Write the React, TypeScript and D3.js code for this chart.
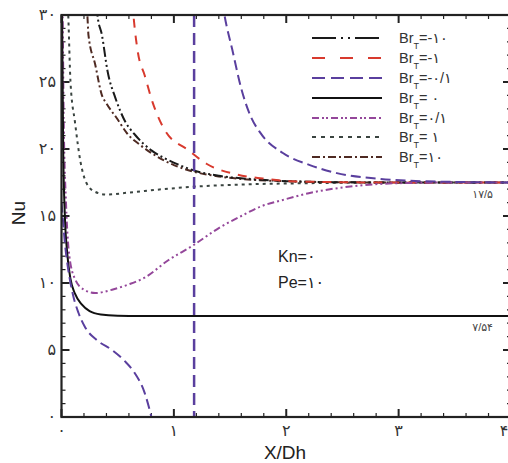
import React from "react";
import * as d3 from "d3";

const W = 508;
const H = 463;

// axis ticks & labels (Persian digits)
const xTicks = [0, 1, 2, 3, 4];
const xTickLabels = ["۰", "۱", "۲", "۳", "۴"];
const yTicks = [0, 5, 10, 15, 20, 25, 30];
const yTickLabels = ["۰", "۵", "۱۰", "۱۵", "۲۰", "۲۵", "۳۰"];

// legend
const legendLabels = ["=-۱۰", "=-۱", "=-۰/۱", "= ۰", "=۰/۱", "= ۱", "=۱۰"];

// series: [X/Dh, Nu]
const brM10: [number, number][] = [
  [0.31, 31], [0.32, 30], [0.36, 28.5], [0.41, 25.8], [0.48, 23.8], [0.57, 22.0], [0.65, 21.1],
  [0.8, 19.9], [0.92, 19.3], [1.05, 18.8], [1.18, 18.4], [1.4, 18.0], [1.7, 17.75],
  [2.0, 17.6], [2.5, 17.52], [3.0, 17.5], [4.0, 17.5],
];
const brM1: [number, number][] = [
  [0.63, 31], [0.64, 30], [0.68, 27.2], [0.74, 25.5], [0.81, 23.5], [0.92, 21.4], [1.13, 19.9],
  [1.29, 18.9], [1.56, 18.1], [1.79, 17.8], [2.03, 17.6], [2.5, 17.52], [3.0, 17.5], [4.0, 17.5],
];
const brM01Left: [number, number][] = [
  [0.0, 16], [0.01, 15], [0.03, 13], [0.06, 11], [0.1, 9.2], [0.15, 7.8], [0.21, 6.7],
  [0.32, 5.7], [0.45, 5.0], [0.56, 4.2], [0.65, 3.3], [0.74, 1.8], [0.8, 0], [0.84, -1.5],
];
const asymptoteX = 1.18;
const brM01Right: [number, number][] = [
  [1.43, 31], [1.45, 30], [1.52, 27.4], [1.6, 24.5], [1.68, 22.5], [1.77, 21.2], [1.97, 19.7],
  [2.21, 18.8], [2.45, 18.2], [2.8, 17.8], [3.2, 17.6], [4.0, 17.5],
];
const br0: [number, number][] = [
  [0.003, 31], [0.005, 30], [0.015, 20], [0.03, 15], [0.05, 12.3], [0.08, 10.3], [0.12, 9.2],
  [0.18, 8.4], [0.25, 7.9], [0.35, 7.65], [0.5, 7.56], [0.7, 7.54], [4.0, 7.54],
];
const br01: [number, number][] = [
  [0.008, 31], [0.01, 30], [0.02, 22], [0.04, 16], [0.07, 12], [0.12, 10.3], [0.2, 9.5],
  [0.3, 9.25], [0.45, 9.5], [0.6, 9.9], [0.74, 10.4], [0.95, 11.7], [1.17, 12.8], [1.4, 14.1],
  [1.6, 15.0], [1.77, 15.7], [1.97, 16.2], [2.2, 16.7], [2.57, 17.2], [3.0, 17.45], [3.5, 17.5],
  [4.0, 17.5],
];
const br1: [number, number][] = [
  [0.055, 31], [0.06, 30], [0.08, 25], [0.12, 22], [0.17, 19], [0.22, 17.5], [0.3, 16.8],
  [0.4, 16.6], [0.6, 16.75], [0.9, 17.0], [1.2, 17.2], [1.6, 17.35], [2.2, 17.45], [3.0, 17.5],
  [4.0, 17.5],
];
const br10: [number, number][] = [
  [0.22, 31], [0.23, 30], [0.24, 28.5], [0.3, 26.3], [0.36, 24], [0.4, 23.4], [0.5, 22.2],
  [0.58, 21.2], [0.7, 20.3], [0.8, 19.7], [1.0, 18.8], [1.18, 18.3], [1.4, 17.95], [1.7, 17.7],
  [2.0, 17.6], [2.5, 17.52], [3.0, 17.5], [4.0, 17.5],
];

type Style = { color: string; dash: string; legendDash: string; width: number };
const styles: Style[] = [
  { color: "#1a1a1a", dash: "10,3,2,3,2,3", legendDash: "24,5,2,5,2,5", width: 2 },
  { color: "#d83a2e", dash: "9,8", legendDash: "13,15", width: 2 },
  { color: "#5a3f9e", dash: "10,5", legendDash: "13,6", width: 2 },
  { color: "#111111", dash: "", legendDash: "", width: 2 },
  { color: "#94479a", dash: "7,3,2,3,2,3", legendDash: "7,3,2,2,2,3", width: 2 },
  { color: "#3a4440", dash: "3,4", legendDash: "4,5", width: 2 },
  { color: "#4e2a22", dash: "7,3,2,3", legendDash: "8,3,2,3", width: 2 },
];

const FONT = "'Liberation Sans', Arial, 'DejaVu Sans', sans-serif";

export default function App() {
  const x = d3.scaleLinear().domain([0, 4]).range([61.5, 511]);
  const y = d3.scaleLinear().domain([0, 30]).range([417, 15]);
  const line = d3
    .line<[number, number]>()
    .x((d) => x(d[0]))
    .y((d) => y(d[1]))
    .curve(d3.curveMonotoneX);

  const series: { data: [number, number][]; s: Style }[] = [
    { data: br1, s: styles[5] },
    { data: br10, s: styles[6] },
    { data: brM10, s: styles[0] },
    { data: brM1, s: styles[1] },
    { data: br01, s: styles[4] },
    { data: br0, s: styles[3] },
    { data: brM01Left, s: styles[2] },
    { data: brM01Right, s: styles[2] },
  ];

  const xMinor = d3.range(0, 4.0001, 0.2);
  const yMinor = d3.range(0, 30.0001, 1);
  const x0 = x(0), x1 = x(4), y0 = y(0), y1 = y(30);

  const legendRows = [38, 58, 78, 98, 118, 137, 157];

  return (
    <div style={{ position: "absolute", left: 0, top: 0 }}>
      <svg width={W} height={H} style={{ display: "block", fontFamily: FONT }}>
        <rect width={W} height={H} fill="#fff" />
        <defs>
          <clipPath id="plot">
            <rect x={x0} y={y1} width={x1 - x0} height={y0 - y1} />
          </clipPath>
        </defs>

        {/* ticks */}
        {xMinor.map((v, i) => {
          const major = Math.abs(v - Math.round(v)) < 1e-6;
          const L = major ? 8 : 4;
          return (
            <g key={"xt" + i} stroke="#222" strokeWidth={major ? 2 : 1.2}>
              <line x1={x(v)} x2={x(v)} y1={y0} y2={y0 - L} />
              <line x1={x(v)} x2={x(v)} y1={y1} y2={y1 + L} />
            </g>
          );
        })}
        {yMinor.map((v, i) => {
          const major = v % 5 === 0;
          const L = major ? 8 : 4;
          return (
            <g key={"yt" + i} stroke="#222" strokeWidth={major ? 2 : 1.2}>
              <line x1={x0} x2={x0 + L} y1={y(v)} y2={y(v)} />
              <line x1={x1} x2={x1 - L} y1={y(v)} y2={y(v)} />
            </g>
          );
        })}

        {/* curves */}
        <g clipPath="url(#plot)" fill="none">
          {series.map((sr, i) => (
            <path
              key={"s" + i}
              d={line(sr.data) || ""}
              stroke={sr.s.color}
              strokeWidth={sr.s.width}
              strokeDasharray={sr.s.dash || undefined}
            />
          ))}
          <line
            x1={x(asymptoteX)}
            x2={x(asymptoteX)}
            y1={y(30)}
            y2={y(0)}
            stroke={styles[2].color}
            strokeWidth={2.5}
            strokeDasharray="12,6"
          />
        </g>

        {/* frame */}
        <rect x={x0} y={y1} width={x1 - x0} height={y0 - y1} fill="none" stroke="#222" strokeWidth={2.2} />

        {/* tick labels */}
        {xTicks.map((v, i) => (
          <text
            key={"xl" + i}
            x={Math.min(x(v), 504)}
            y={436}
            textAnchor="middle"
            fontSize={16}
            fill="#333"
          >
            {xTickLabels[i]}
          </text>
        ))}
        {yTicks.map((v, i) => (
          <text key={"yl" + i} x={56} y={y(v) + 5} textAnchor="end" fontSize={16} fill="#333">
            {yTickLabels[i]}
          </text>
        ))}

        {/* axis titles */}
        <text x={285} y={459} textAnchor="middle" fontSize={19} fill="#222">X/Dh</text>
        <text transform="translate(25,213) rotate(-90)" textAnchor="middle" fontSize={19} fill="#222">Nu</text>

        {/* annotations */}
        <text x={278} y={262} fontSize={16} fill="#222">Kn=۰</text>
        <text x={278} y={288} fontSize={16} fill="#222">Pe=۱۰</text>
        <text x={493} y={198} textAnchor="end" fontSize={11} fill="#444">۱۷/۵</text>
        <text x={493} y={331} textAnchor="end" fontSize={11} fill="#444">۷/۵۴</text>

        {/* legend */}
        {legendRows.map((ry, i) => (
          <g key={"lg" + i}>
            <line
              x1={312}
              x2={382}
              y1={ry}
              y2={ry}
              stroke={styles[i].color}
              strokeWidth={2}
              strokeDasharray={styles[i].legendDash || undefined}
            />
            <text x={399} y={ry + 5} fontSize={14.5} fill="#333">
              Br
              <tspan fontSize={9} dy={6}>T</tspan>
              <tspan dy={-6}>{legendLabels[i]}</tspan>
            </text>
          </g>
        ))}
      </svg>
    </div>
  );
}
